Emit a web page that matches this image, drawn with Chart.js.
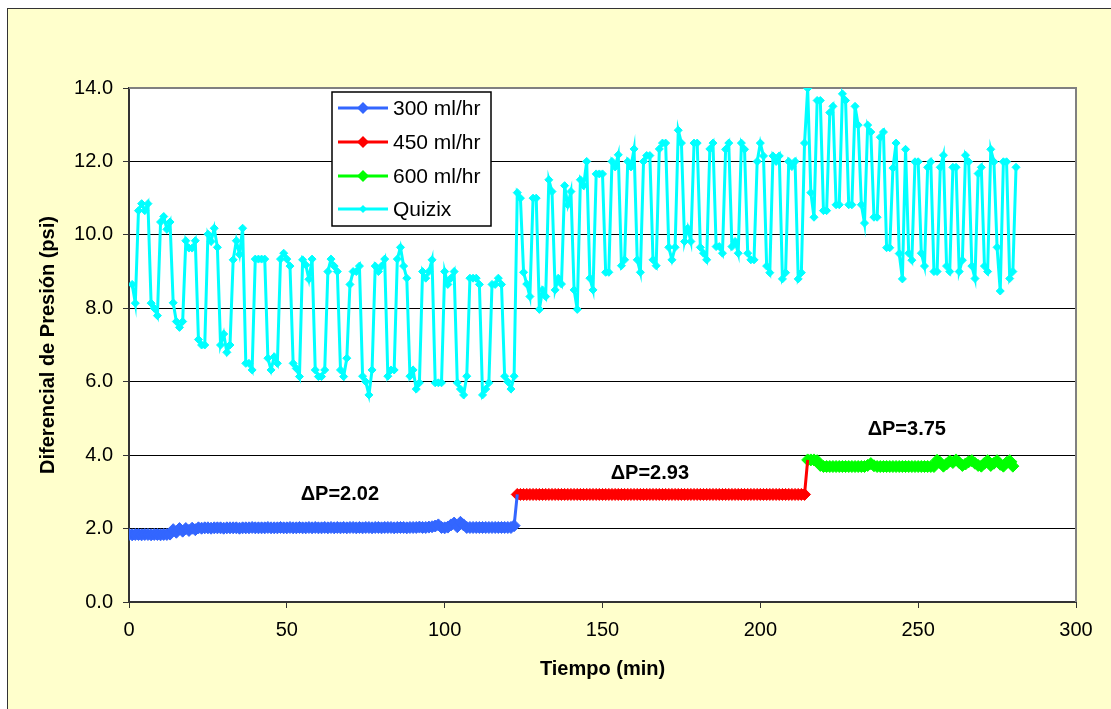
<!DOCTYPE html>
<html>
<head>
<meta charset="utf-8">
<script src="https://cdn.jsdelivr.net/npm/chart.js@4.4.0/dist/chart.umd.min.js"></script>
<style>
  html, body { margin: 0; padding: 0; background: #fff; }
  canvas { display: block; }
</style>
</head>
<body>
<canvas id="chart" width="1111" height="709"></canvas>
<script>
// Data (time in min, pressure in psi)
const seriesNames = ['300 ml/hr', '450 ml/hr', '600 ml/hr', 'Quizix'];
const seriesColors = ['#3366FF', '#FF0000', '#00FF00', '#00FFFF'];
const stepMin = 1;

const blueStart = 0;
const bluePsi = [
    1.84, 1.83, 1.84, 1.84, 1.83, 1.84, 1.84, 1.83, 1.84, 1.84, 1.83, 1.84, 1.84, 1.85,
    1.97, 1.90, 2.00, 1.93, 2.00, 1.95, 2.01, 1.97, 2.02,
    2.01, 2.02, 2.02, 2.01, 2.02, 2.02, 2.02, 2.01, 2.02, 2.02,
    2.02, 2.02, 2.01, 2.02, 2.02, 2.02, 2.03, 2.02, 2.02, 2.02,
    2.02, 2.03, 2.02, 2.02, 2.02, 2.03, 2.02, 2.02, 2.03, 2.02,
    2.02, 2.03, 2.02, 2.02, 2.03, 2.02, 2.03, 2.02, 2.02, 2.03,
    2.02, 2.03, 2.02, 2.03, 2.02, 2.03, 2.02, 2.03, 2.03, 2.02,
    2.03, 2.02, 2.03, 2.03, 2.02, 2.03, 2.03, 2.02, 2.03, 2.03,
    2.03, 2.02, 2.03, 2.03, 2.03, 2.02, 2.03, 2.03, 2.03, 2.04,
    2.03, 2.03, 2.04, 2.05,
    2.07, 2.10, 2.03, 2.02, 2.04, 2.10, 2.15, 2.05, 2.17, 2.10, 2.03,
    2.03, 2.03, 2.03, 2.03, 2.03, 2.03, 2.03, 2.03, 2.03, 2.03, 2.03, 2.03, 2.03, 2.03,
    2.08
];

const redStart = 123;
const redPsi = [
    2.93, 2.93, 2.93, 2.93, 2.93, 2.93, 2.93, 2.93, 2.93, 2.93,
    2.93, 2.93, 2.93, 2.93, 2.93, 2.93, 2.93, 2.93, 2.93, 2.93,
    2.93, 2.93, 2.93, 2.93, 2.93, 2.93, 2.93, 2.93, 2.93, 2.93,
    2.93, 2.93, 2.93, 2.93, 2.93, 2.93, 2.93, 2.93, 2.93, 2.93,
    2.93, 2.93, 2.93, 2.93, 2.93, 2.93, 2.93, 2.93, 2.93, 2.93,
    2.93, 2.93, 2.93, 2.93, 2.93, 2.93, 2.93, 2.93, 2.93, 2.93,
    2.93, 2.93, 2.93, 2.93, 2.93, 2.93, 2.93, 2.93, 2.93, 2.93,
    2.93, 2.93, 2.93, 2.93, 2.93, 2.93, 2.93, 2.93, 2.93, 2.93,
    2.93, 2.93, 2.93, 2.93, 2.93, 2.93, 2.93, 2.93, 2.93, 2.93,
    2.93, 2.93
];

const greenStart = 215;
const greenPsi = [
    3.87, 3.87, 3.87, 3.85, 3.72,
    3.69, 3.69, 3.69, 3.69, 3.69, 3.69, 3.69, 3.69, 3.69, 3.69, 3.69, 3.69, 3.69, 3.69,
    3.72, 3.77, 3.71,
    3.69, 3.69, 3.69, 3.69, 3.69, 3.69, 3.69, 3.69, 3.69, 3.69,
    3.69, 3.69, 3.69, 3.69, 3.69, 3.69, 3.69, 3.69, 3.69,
    3.86, 3.80, 3.70, 3.76, 3.84, 3.80, 3.87, 3.80, 3.72, 3.76,
    3.82, 3.85, 3.78, 3.72, 3.70, 3.78, 3.85, 3.72, 3.78, 3.85,
    3.75, 3.70, 3.80, 3.85, 3.70, 3.85
];

const quizixStart = 1;
const quizixPsi = [
    8.65, 8.14, 10.66, 10.85, 10.66, 10.85, 8.14, 8.0, 7.8, 10.35,
    10.5, 10.15, 10.35, 8.15, 7.64, 7.48, 7.64, 9.84, 9.64, 9.64,
    9.84, 7.15, 7.0, 7.0, 10.02, 9.82, 10.18, 9.66, 7.0, 7.3,
    6.8, 7.0, 9.32, 9.84, 9.47, 10.18, 6.5, 6.5, 6.32, 9.34,
    9.34, 9.34, 9.34, 6.64, 6.32, 6.68, 6.5, 9.34, 9.5, 9.34,
    9.15, 6.5, 6.36, 6.14, 9.32, 9.18, 8.79, 9.34, 6.32, 6.14,
    6.14, 6.32, 9.0, 9.34, 9.15, 9.0, 6.32, 6.14, 6.64, 8.65,
    9.0, 9.0, 9.15, 6.15, 6.0, 5.64, 6.32, 9.15, 9.0, 9.15,
    9.34, 6.15, 6.32, 6.32, 9.34, 9.66, 9.15, 8.82, 6.15, 6.32,
    5.8, 5.97, 9.0, 8.82, 9.0, 9.32, 5.97, 5.97, 5.97, 9.0,
    8.65, 8.82, 9.0, 5.97, 5.8, 5.64, 6.15, 8.82, 8.82, 8.82,
    8.65, 5.64, 5.8, 5.97, 8.65, 8.65, 8.82, 8.65, 6.15, 6.0,
    5.8, 6.15, 11.15, 11.0, 8.98, 8.66, 8.32, 11.0, 11.0, 7.97,
    8.5, 8.32, 11.5, 11.18, 8.5, 8.82, 8.66, 11.34, 10.82, 11.18,
    8.5, 7.97, 11.5, 11.34, 12.0, 8.82, 8.5, 11.66, 11.66, 11.66,
    8.98, 8.98, 12.0, 11.85, 12.18, 9.16, 9.32, 12.0, 11.85, 12.34,
    9.32, 8.98, 12.0, 12.16, 12.16, 9.32, 9.16, 12.34, 12.5, 12.5,
    9.66, 9.32, 9.66, 12.85, 12.5, 9.82, 10.18, 9.82, 12.5, 12.5,
    9.66, 9.5, 9.32, 12.34, 12.5, 9.68, 9.68, 9.5, 12.33, 12.5,
    9.68, 9.82, 9.5, 12.5, 12.33, 9.5, 9.32, 9.32, 12.0, 12.5,
    12.15, 9.15, 8.97, 12.15, 12.0, 12.15, 8.8, 8.97, 12.0, 11.86,
    12.0, 8.8, 8.97, 12.5, 13.99, 11.15, 10.48, 13.66, 13.66, 10.66,
    10.66, 13.33, 13.5, 10.82, 10.82, 13.84, 13.66, 10.82, 10.82, 13.5,
    12.99, 10.82, 10.32, 12.99, 12.8, 10.48, 10.48, 12.66, 12.8, 9.65,
    9.65, 11.82, 12.5, 9.49, 8.8, 12.33, 9.5, 9.31, 11.99, 11.99,
    9.5, 9.15, 11.84, 11.99, 9.0, 9.0, 11.84, 12.17, 9.15, 9.0,
    11.84, 11.84, 9.0, 9.31, 12.17, 11.99, 9.15, 8.81, 11.67, 11.84,
    9.15, 9.0, 12.33, 11.99, 9.66, 8.47, 11.99, 11.99, 8.81, 9.0, 11.84
];

const xTicks = [0, 50, 100, 150, 200, 250, 300];
const yTicks = [0, 2, 4, 6, 8, 10, 12, 14];
const deltaLabels = ['\u0394P=2.02', '\u0394P=2.93', '\u0394P=3.75'];

const FONT = "'Liberation Sans', Arial, sans-serif";

function toPoints(start, values) {
    return values.map((v, i) => ({ x: start + i * stepMin, y: v }));
}

const bluePts = toPoints(blueStart, bluePsi);
const redPts = toPoints(redStart, redPsi);
const greenPts = toPoints(greenStart, greenPsi);
const quizixPts = toPoints(quizixStart, quizixPsi);

// each rate step is joined to the first reading of the next one
const blueData = bluePts.concat([redPts[0]]);
const redData = redPts.concat([greenPts[0]]);

function lastHidden(len, r) {
    return (c) => (c.dataIndex === len - 1 ? 0 : r);
}

function stepDataset(i, data) {
    return {
        label: seriesNames[i],
        data: data,
        borderColor: seriesColors[i],
        backgroundColor: seriesColors[i],
        borderWidth: 3,
        pointStyle: 'rectRot',
        pointRadius: lastHidden(data.length, 6),
        pointBorderWidth: 1,
        pointBorderColor: seriesColors[i],
        pointBackgroundColor: seriesColors[i],
        tension: 0
    };
}

// plot annotations (position in data units)
const labelSpots = [
    { t: 66.8, p: 2.94 },
    { t: 165, p: 3.49 },
    { t: 246.4, p: 4.69 }
];

const framePlugin = {
    id: 'frame',
    beforeDraw(chart) {
        const { ctx, chartArea: a } = chart;
        ctx.save();
        ctx.fillStyle = '#ffffff';
        ctx.fillRect(0, 0, chart.width, chart.height);
        ctx.fillStyle = '#FFFFCC';
        ctx.fillRect(7, 8, chart.width, chart.height);
        ctx.strokeStyle = '#333';
        ctx.lineWidth = 1;
        ctx.strokeRect(7.5, 8.5, chart.width + 20, chart.height + 20);
        ctx.fillStyle = '#ffffff';
        ctx.fillRect(a.left, a.top, a.right - a.left, a.bottom - a.top);
        ctx.restore();
    },
    beforeDatasetsDraw(chart) {
        const { ctx, chartArea: a } = chart;
        ctx.save();
        ctx.strokeStyle = '#808080';
        ctx.lineWidth = 2;
        ctx.beginPath();
        ctx.moveTo(a.left, a.top);
        ctx.lineTo(a.right, a.top);
        ctx.lineTo(a.right, a.bottom);
        ctx.stroke();
        ctx.restore();
    },
    afterDraw(chart) {
        const { ctx, scales } = chart;
        ctx.save();
        // delta P labels
        ctx.font = 'bold 20px ' + FONT;
        ctx.fillStyle = '#000';
        ctx.textAlign = 'center';
        ctx.textBaseline = 'middle';
        deltaLabels.forEach((txt, i) => {
            const s = labelSpots[i];
            ctx.fillText(txt, scales.x.getPixelForValue(s.t), scales.y.getPixelForValue(s.p));
        });

        // legend box
        const bx = 332, by = 92, bw = 159, bh = 134;
        ctx.fillStyle = '#fff';
        ctx.fillRect(bx, by, bw, bh);
        ctx.strokeStyle = '#000';
        ctx.lineWidth = 1.5;
        ctx.strokeRect(bx, by, bw, bh);
        const rows = [108, 142, 176, 209];
        ctx.font = '21px ' + FONT;
        ctx.textAlign = 'left';
        seriesNames.forEach((name, i) => {
            const y = rows[i];
            ctx.strokeStyle = seriesColors[i];
            ctx.lineWidth = 3;
            ctx.beginPath();
            ctx.moveTo(338, y);
            ctx.lineTo(388, y);
            ctx.stroke();
            const r = i === 3 ? 4 : 6;
            ctx.fillStyle = seriesColors[i];
            ctx.beginPath();
            ctx.moveTo(363, y - r);
            ctx.lineTo(363 + r, y);
            ctx.lineTo(363, y + r);
            ctx.lineTo(363 - r, y);
            ctx.closePath();
            ctx.fill();
            ctx.fillStyle = '#000';
            ctx.fillText(name, 393, y + 1);
        });
        ctx.restore();
    }
};

const chart = new Chart(document.getElementById('chart'), {
    type: 'line',
    data: {
        datasets: [
            stepDataset(0, blueData),
            stepDataset(1, redData),
            stepDataset(2, greenPts),
            {
                label: seriesNames[3],
                data: quizixPts,
                borderColor: seriesColors[3],
                backgroundColor: seriesColors[3],
                borderWidth: 3,
                pointStyle: 'rectRot',
                pointRadius: 4,
                pointBorderWidth: 1,
                pointBorderColor: seriesColors[3],
                pointBackgroundColor: seriesColors[3],
                tension: 0
            }
        ]
    },
    options: {
        responsive: false,
        animation: false,
        devicePixelRatio: 1,
        layout: { padding: { left: 0, top: 88, right: 35, bottom: 0 } },
        plugins: {
            legend: { display: false },
            tooltip: { enabled: false }
        },
        scales: {
            x: {
                type: 'linear',
                min: xTicks[0],
                max: xTicks[xTicks.length - 1],
                afterBuildTicks: (s) => { s.ticks = xTicks.map(v => ({ value: v })); },
                afterFit: (s) => { s.height = 107; },
                ticks: {
                    color: '#000',
                    font: { family: FONT, size: 20 },
                    padding: 10,
                    maxRotation: 0
                },
                grid: {
                    drawOnChartArea: false,
                    drawTicks: true,
                    tickLength: 6,
                    tickColor: '#333',
                    tickWidth: 1
                },
                border: { color: '#333', width: 2 },
                title: {
                    display: true,
                    text: 'Tiempo (min)',
                    color: '#000',
                    font: { family: FONT, size: 20, weight: 'bold' },
                    padding: { top: 0, bottom: 28 }
                }
            },
            y: {
                min: yTicks[0],
                max: yTicks[yTicks.length - 1],
                afterBuildTicks: (s) => { s.ticks = yTicks.map(v => ({ value: v })); },
                afterFit: (s) => { s.width = 129; },
                ticks: {
                    color: '#000',
                    font: { family: FONT, size: 20 },
                    padding: 10,
                    callback: (v) => Number(v).toFixed(1)
                },
                grid: {
                    color: '#000',
                    lineWidth: 1,
                    drawTicks: true,
                    tickLength: 6,
                    tickColor: '#333'
                },
                border: { color: '#333', width: 2 },
                title: {
                    display: true,
                    text: 'Diferencial de Presión (psi)',
                    color: '#000',
                    font: { family: FONT, size: 20, weight: 'bold' },
                    padding: { top: 36, bottom: 0 }
                }
            }
        }
    },
    plugins: [framePlugin]
});
</script>
</body>
</html>
